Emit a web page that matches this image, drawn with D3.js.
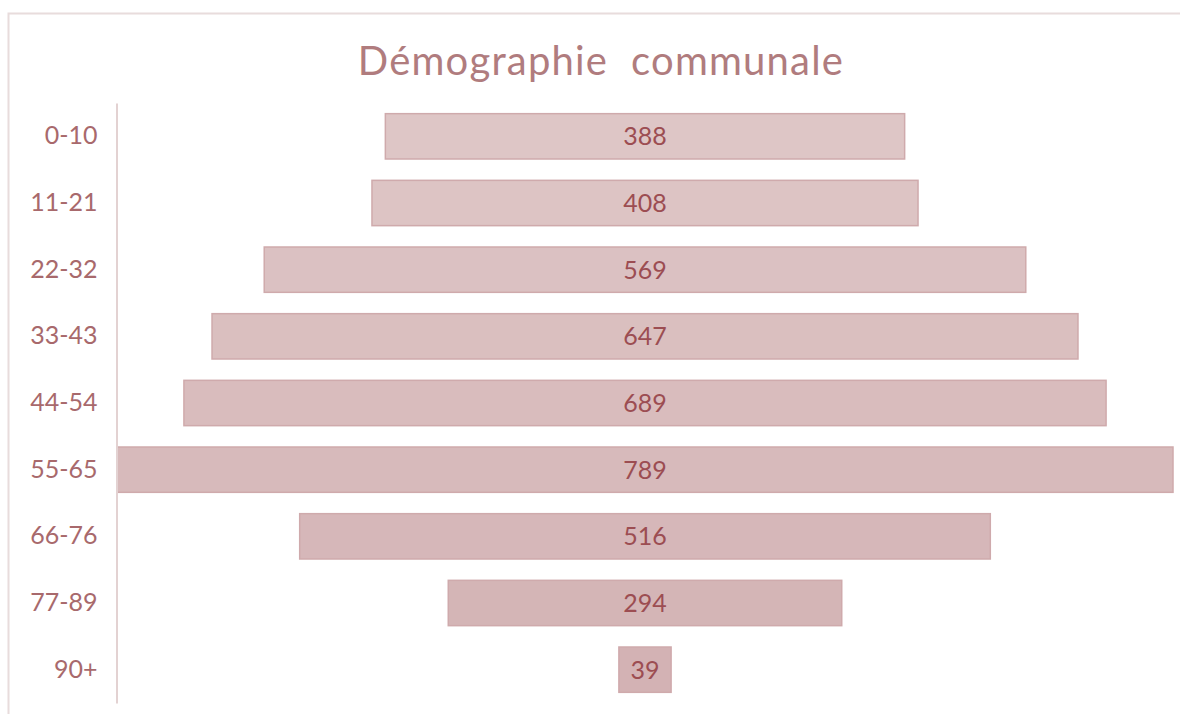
<!DOCTYPE html>
<html>
<head>
  <meta charset="utf-8">
  <script src="https://d3js.org/d3.v7.min.js"></script>
  <style>
    body { margin: 0; background: #fff; }
    svg { font-family: Lato, "Open Sans", sans-serif; }
  </style>
</head>
<body>
  <svg width="1180" height="714"></svg>
  <script>
    // Data
    const ageGroups = ["0-10", "11-21", "22-32", "33-43", "44-54", "55-65", "66-76", "77-89", "90+"];
    const population = [388, 408, 569, 647, 689, 789, 516, 294, 39];

    const svg = d3.select("svg");

    // chart frame (left and top edges only visible)
    svg.append("rect")
      .attr("x", 8.5).attr("y", 13.5)
      .attr("width", 1200).attr("height", 800)
      .attr("fill", "none")
      .attr("stroke", "#e8dcdc")
      .attr("stroke-width", 2);

    svg.append("text")
      .attr("x", 601).attr("y", 75)
      .attr("text-anchor", "middle")
      .attr("fill", "#b07c7e")
      .attr("font-size", 40)
      .attr("letter-spacing", 1.2)
      .style("white-space", "pre")
      .text("Démographie  communale");

    const maxVal = d3.max(population);
    const x = d3.scaleLinear()
      .domain([-maxVal / 2, maxVal / 2])
      .range([117, 1173]);

    const y = d3.scaleBand()
      .domain(ageGroups)
      .range([103, 703])
      .paddingInner(0.32)
      .paddingOuter(0.16);

    // bars get slightly darker towards the bottom
    const shade = d3.interpolateRgb("#dec6c6", "#d3b2b4");

    const rows = ageGroups.map((g, i) => ({ group: g, value: population[i], i }));

    svg.selectAll(".bar")
      .data(rows)
      .join("rect")
      .attr("class", "bar")
      .attr("x", d => x(-d.value / 2))
      .attr("y", d => y(d.group))
      .attr("width", d => x(d.value / 2) - x(-d.value / 2))
      .attr("height", y.bandwidth())
      .attr("fill", d => shade(d.i / (rows.length - 1)))
      .attr("stroke", "#cfaaac")
      .attr("stroke-width", 1.5);

    svg.selectAll(".val")
      .data(rows)
      .join("text")
      .attr("class", "val")
      .attr("x", x(0))
      .attr("y", d => y(d.group) + y.bandwidth() / 2)
      .attr("dy", "0.36em")
      .attr("text-anchor", "middle")
      .attr("fill", "#9c4d52")
      .attr("font-size", 25)
      .text(d => d.value);

    // category axis
    const axis = svg.append("g")
      .attr("transform", "translate(116.5,0)")
      .call(d3.axisLeft(y).tickSize(0).tickPadding(19));
    axis.select(".domain").attr("stroke", "#e3d2d2").attr("stroke-width", 2);
    axis.selectAll("text")
      .attr("fill", "#a8696c")
      .attr("font-size", 25)
      .attr("font-family", "Lato, 'Open Sans', sans-serif");
  </script>
</body>
</html>
